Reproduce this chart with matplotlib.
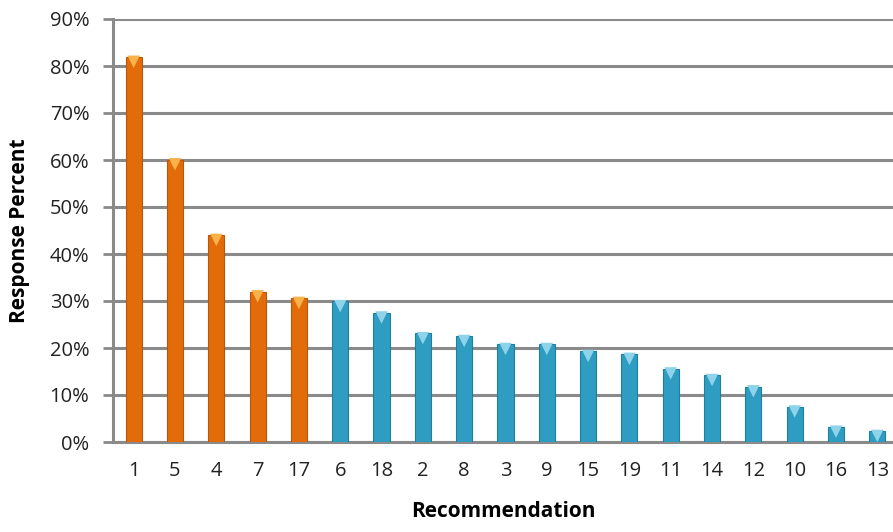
import matplotlib.pyplot as plt
import numpy as np

recommendations = ['1', '5', '4', '7', '17', '6', '18', '2', '8', '3', '9',
                   '15', '19', '11', '14', '12', '10', '16', '13']
response_pct = [81.9, 60.1, 44.0, 32.0, 30.6, 29.9, 27.5, 23.1, 22.5, 20.8,
                20.8, 19.3, 18.7, 15.6, 14.2, 11.8, 7.5, 3.2, 2.3]
n_highlight = 5  # top five are drawn in orange

orange = '#E36C0A'
orange_top = '#F9B24A'
blue = '#2F9DC2'
blue_top = '#8ED3EA'
grid_col = '#8A8A8A'

plt.rcParams['font.family'] = ['Open Sans', 'DejaVu Sans']

fig = plt.figure(figsize=(8.93, 5.32), dpi=100)
ax = fig.add_axes([113 / 893, 90 / 532, 780 / 893, 423 / 532])

x = np.arange(len(recommendations))
colors = [orange if i < n_highlight else blue for i in x]
tops = [orange_top if i < n_highlight else blue_top for i in x]
edges = ['#B8560A' if i < n_highlight else '#1F7E9E' for i in x]

ax.bar(x, response_pct, width=0.39, color=colors, edgecolor=edges,
       linewidth=0.8, zorder=3)
# bevel highlight on top of each bar
ax.scatter(x, np.array(response_pct) - 1.0, marker='v', s=80, c=tops,
           linewidths=0, zorder=4)

ax.set_ylim(0, 90)
ax.set_xlim(-0.5, 18.38)
ax.set_yticks(np.arange(0, 91, 10))
ax.set_yticklabels([f'{v}%' for v in range(0, 91, 10)])
ax.set_xticks(x)
ax.set_xticklabels(recommendations)

ax.yaxis.grid(True, color=grid_col, linewidth=2.2, zorder=0)
ax.set_axisbelow(True)
for s in ['top', 'right']:
    ax.spines[s].set_visible(False)
ax.spines['left'].set_color(grid_col)
ax.spines['left'].set_linewidth(2.2)
ax.spines['bottom'].set_color(grid_col)
ax.spines['bottom'].set_linewidth(2.2)

ax.tick_params(axis='y', direction='out', length=7, width=2, color=grid_col,
               labelsize=14.5, pad=10, labelcolor='#222222')
ax.tick_params(axis='x', length=0, labelsize=14.5, pad=14,
               labelcolor='#222222')

ax.set_ylabel('Response Percent', fontsize=15, fontweight='bold', labelpad=14)
ax.set_xlabel('Recommendation', fontsize=15, fontweight='bold', labelpad=14)

fig.savefig('out.png', dpi=100)
